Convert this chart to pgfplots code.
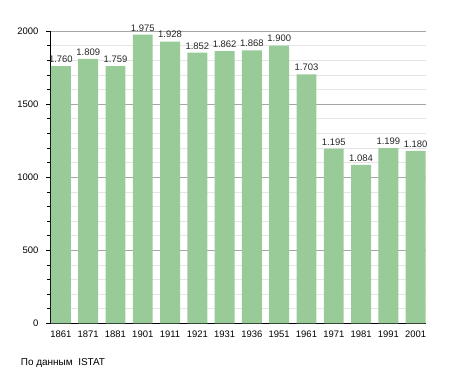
\documentclass[border=0pt]{standalone}
\usepackage{fontspec}
\setmainfont{Liberation Sans}
\usepackage{pgfplots}
\pgfplotsset{compat=1.18}
\definecolor{barg}{RGB}{152,203,152}
\begin{document}
\begin{tikzpicture}
\useasboundingbox (0,0) rectangle (455bp,373bp);
\begin{axis}[
  at={(50bp,49.7bp)}, anchor=south west,
  scale only axis, width=376bp, height=292.3bp,
  xmin=-0.4, xmax=13.38, ymin=0, ymax=2000,
  axis x line=bottom, axis y line=left,
  axis line style={-, black, line width=0.8pt},
  xtick=data,
  xticklabels={1861,1871,1881,1901,1911,1921,1931,1936,1951,1961,1971,1981,1991,2001},
  x tick style={draw=none},
  ytick={0,500,1000,1500,2000},
  minor y tick num=4,
  tick align=outside,
  major tick length=4bp, minor tick length=3bp,
  y tick style={black, line width=0.5pt},
  ymajorgrids, yminorgrids,
  major grid style={gray!70, line width=0.5pt},
  minor grid style={gray!20, line width=0.4pt},
  tick label style={font=\fontsize{9.5}{11}\selectfont},
  yticklabel style={xshift=-4bp},
  /pgf/number format/1000 sep={},
  /pgf/number format/assume math mode=true,
  clip=false,
  nodes near coords,
  every node near coord/.append style={font=\fontsize{9.5}{11}\selectfont, /pgf/number format/1000 sep={.}, /pgf/number format/assume math mode=true, text=black!85},
]
\addplot[ybar, bar width=0.73, fill=barg, draw=none] coordinates {
(0,1760) (1,1809) (2,1759) (3,1975) (4,1928) (5,1852) (6,1862) (7,1868) (8,1900) (9,1703) (10,1195) (11,1084) (12,1199) (13,1180)
};
\end{axis}
\node[anchor=base west, font=\fontsize{10}{12}\selectfont, inner sep=0] at (20.7bp,8bp) {По данным\ \ ISTAT};
\end{tikzpicture}
\end{document}
